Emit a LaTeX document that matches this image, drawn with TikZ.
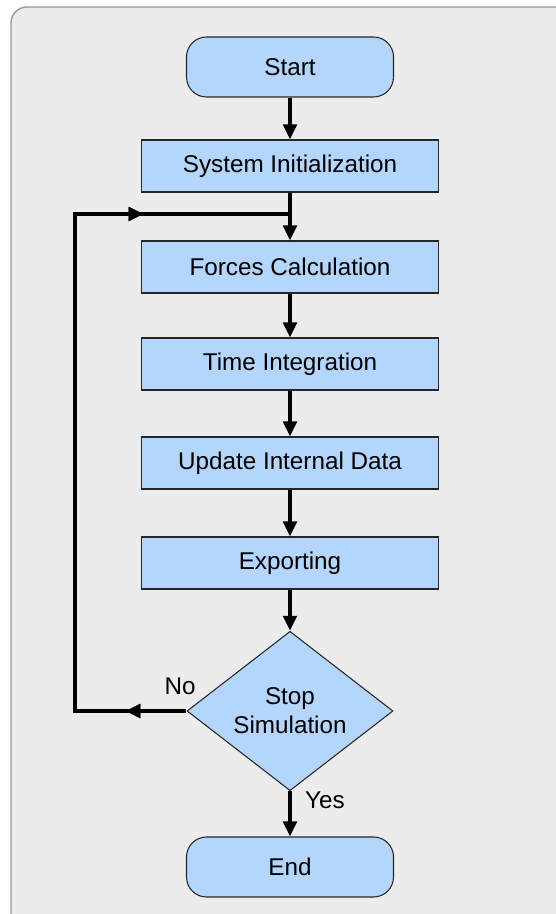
\documentclass[tikz,border=0pt]{standalone}
\usepackage{fontspec}
\setmainfont{Liberation Sans}
\usetikzlibrary{shapes.geometric,arrows.meta,decorations.markings}
\definecolor{panel}{HTML}{ECECEC}
\definecolor{boxblue}{HTML}{B4D5FC}

\begin{document}
\begin{tikzpicture}[line width=1.9pt,
	every node/.style = {font=\fontsize{13.8}{16.5}\selectfont},
	process/.style = {rectangle, draw=black!85, line width=0.6pt, fill=boxblue, minimum width=5.94cm, minimum height=1.04cm},
	terminal/.style = {rectangle, rounded corners=0.4cm, draw=black!85, line width=0.6pt, fill=boxblue, minimum width=4.14cm, minimum height=1.2cm},
	decision/.style = {diamond, draw=black!85, line width=0.6pt, fill=boxblue, minimum width=4.12cm, minimum height=3.04cm, inner sep=0pt, align=center},
	flow/.style = {-{Triangle[length=0.3cm,width=0.27cm]}},
	midarrow/.style = {postaction={decorate}, decoration={markings, mark=at position #1 with {\arrow{Triangle[length=0.3cm,width=0.27cm]}}}}]
	\useasboundingbox (0,0) rectangle (11.1,18.28);
	\draw[gray!80, line width=0.8pt, fill=panel, rounded corners=0.32cm] (0.22,18.14) rectangle (11.6,-0.4);

	\node (start)	at (5.8, 16.94)	[terminal]	{Start};
	\node (init)	at (5.8, 14.96)	[process]	{System Initialization};
	\node (forces)	at (5.8, 12.94)	[process]	{Forces Calculation};
	\node (integ)	at (5.8, 11.00)	[process]	{Time Integration};
	\node (update)	at (5.8,  9.02)	[process]	{Update Internal Data};
	\node (export)	at (5.8,  7.02)	[process]	{Exporting};
	\node (stop)	at (5.8,  4.06)	[decision]	{Stop\\Simulation};
	\node (end)	at (5.8,  0.94)	[terminal]	{End};

	\coordinate (loopbot)	at (1.5,  4.06);
	\coordinate (looptop)	at (1.5, 14.00);
	\coordinate (join)	at (5.8, 14.00);

	\draw[flow] (start) -- (init);
	\draw[flow] (init) -- (forces);
	\draw[flow] (forces) -- (integ);
	\draw[flow] (integ) -- (update);
	\draw[flow] (update) -- (export);
	\draw[flow] (export) -- (stop);
	\draw[flow] (stop) -- (end);

	% back to the forces step
	\draw[midarrow=1.22cm, midarrow=13.54cm] (stop.west) -- (loopbot) -- (looptop) -- (join);

	\node (no)	at (3.6, 4.56)	{No};
	\node (yes)	at (6.5, 2.28)	{Yes};
\end{tikzpicture}
\end{document}
